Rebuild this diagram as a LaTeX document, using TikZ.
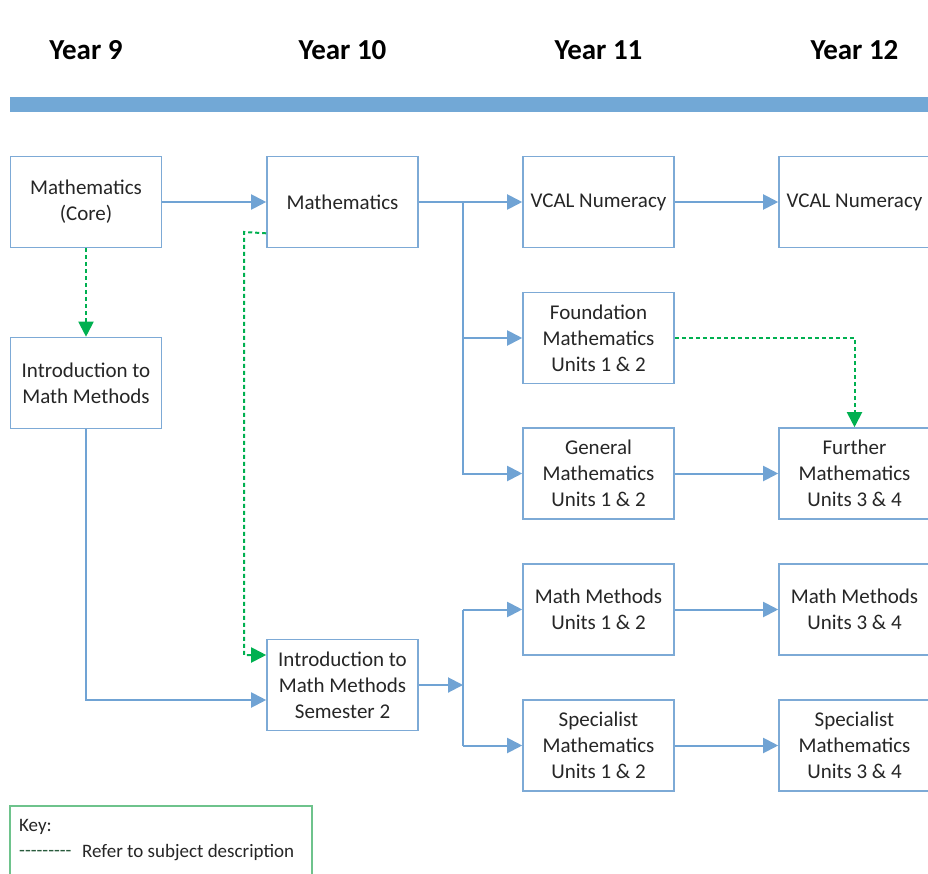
\documentclass[tikz,border=0pt]{standalone}
\usepackage{fontspec}
\setmainfont{Carlito}
\usetikzlibrary{arrows.meta,calc}
\definecolor{lineblue}{RGB}{112,163,212}
\definecolor{boxblue}{RGB}{125,170,214}
\definecolor{barblue}{RGB}{114,168,214}
\definecolor{refgreen}{RGB}{0,176,80}
\definecolor{keygreen}{RGB}{110,195,140}
\definecolor{keydash}{RGB}{40,90,60}
\begin{document}
\begin{tikzpicture}[x=1pt,y=-1pt,
  stagebox/.style={draw=boxblue, line width=1.6pt, minimum width=151pt, minimum height=91pt,
    inner sep=0pt, align=center, font=\fontsize{21}{26}\selectfont, text=black!85},
  yearlabel/.style={font=\fontsize{29}{32}\selectfont\bfseries, inner sep=0pt},
  flow/.style={draw=lineblue, line width=2pt, -{Triangle[length=15pt,width=15pt]}},
  flowline/.style={draw=lineblue, line width=2pt},
  ref/.style={draw=refgreen, line width=2pt, dash pattern=on 4pt off 3pt,
    -{Triangle[length=15pt,width=15pt]}},
  keytext/.style={font=\fontsize{19}{22}\selectfont, inner sep=0pt, anchor=west, text=black!85}]
\useasboundingbox (0,0) rectangle (928,874);
\fill[white] (0,0) rectangle (928,874);
% header
\node[yearlabel] (y9) at (86,50) {Year 9};
\node[yearlabel] (y10) at (342.5,50) {Year 10};
\node[yearlabel] (y11) at (598.5,50) {Year 11};
\node[yearlabel] (y12) at (854.5,50) {Year 12};
\fill[barblue] (10,97) rectangle (928,112);
% boxes
\node[stagebox] (core) at (86,202) {Mathematics\\(Core)};
\node[stagebox] (intro) at (86,383) {Introduction to\\Math Methods};
\node[stagebox] (m10) at (342.5,202) {Mathematics};
\node[stagebox] (sem2) at (342.5,685) {Introduction to\\Math Methods\\Semester 2};
\node[stagebox] (vcal11) at (598.5,202) {VCAL Numeracy};
\node[stagebox] (found) at (598.5,338) {Foundation\\Mathematics\\Units 1 \& 2};
\node[stagebox] (gen) at (598.5,473.5) {General\\Mathematics\\Units 1 \& 2};
\node[stagebox] (mm1) at (598.5,609.5) {Math Methods\\Units 1 \& 2};
\node[stagebox] (sp1) at (598.5,745.5) {Specialist\\Mathematics\\Units 1 \& 2};
\node[stagebox] (vcal12) at (854.5,202) {VCAL Numeracy};
\node[stagebox] (fur) at (854.5,473.5) {Further\\Mathematics\\Units 3 \& 4};
\node[stagebox] (mm3) at (854.5,609.5) {Math Methods\\Units 3 \& 4};
\node[stagebox] (sp3) at (854.5,745.5) {Specialist\\Mathematics\\Units 3 \& 4};
% junctions
\coordinate (j1) at (463,202);
\coordinate (j2) at (463,685);
\coordinate (g1) at (244,232);
% connectors
\draw[flow] (core) -- (m10);
\draw[flow] (m10) -- (vcal11);
\draw[flow] (j1) |- (found.west);
\draw[flow] (j1) |- (gen.west);
\draw[flow] (vcal11) -- (vcal12);
\draw[flow] (gen) -- (fur);
\draw[flow] (mm1) -- (mm3);
\draw[flow] (sp1) -- (sp3);
\draw[flow] (intro.south) |- ([yshift=-15pt]sem2.west);
\draw[flow] (sem2.east) -- (j2);
\draw[flowline] (j2) -- (j2 |- mm1.west);
\draw[flowline] (j2) -- (j2 |- sp1.west);
\draw[flow] (j2 |- mm1.west) -- (mm1.west);
\draw[flow] (j2 |- sp1.west) -- (sp1.west);
% reference links
\draw[ref] (core.south) -- (intro.north);
\draw[ref] (found.east) -| (fur.north);
\draw[ref] ([yshift=15pt]m10.south west) -- (g1) |- ([yshift=30pt]sem2.west);
% key
\draw[draw=keygreen, line width=1.5pt] (10,806) rectangle (312,884);
\node[keytext] (k1) at (19,827) {Key:};
\node[keytext, text=keydash] (k2) at (19,853) {-{}-{}-{}-{}-{}-{}-{}-{}-};
\node[keytext] (k3) at (82,853) {Refer to subject description};
\end{tikzpicture}
\end{document}
